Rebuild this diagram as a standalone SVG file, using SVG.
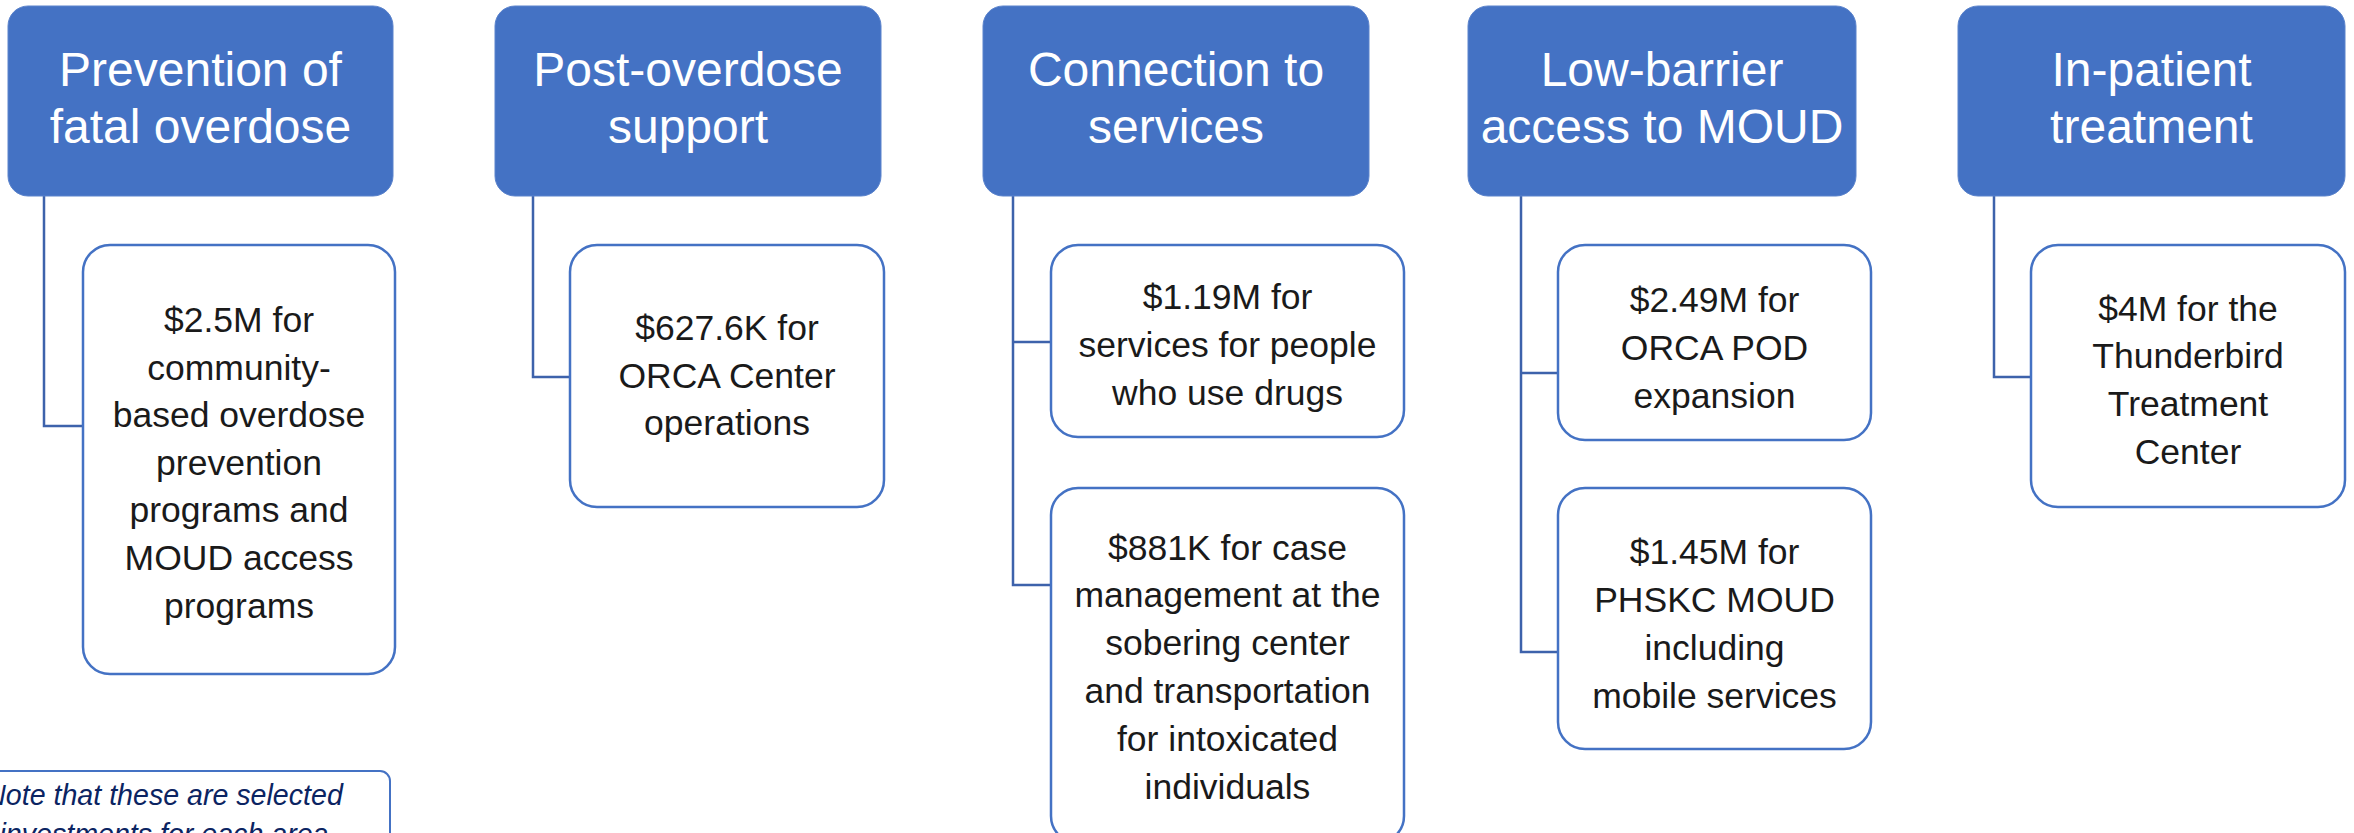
<svg xmlns="http://www.w3.org/2000/svg" width="2354" height="833" viewBox="0 0 2354 833">
<style>
.hdr{fill:#4472C4;stroke:#5B83CC;stroke-width:1}
.child{fill:#FFFFFF;stroke:#4472C4;stroke-width:2.5}
.ht{font-family:"Liberation Sans",Arial,sans-serif;font-size:48px;fill:#FFFFFF;text-anchor:middle}
.ct{font-family:"Liberation Sans",Arial,sans-serif;font-size:35.5px;fill:#1A1A1A;text-anchor:middle}
.conn{fill:none;stroke:#3D62AB;stroke-width:2.5}
.note{font-family:"Liberation Sans",Arial,sans-serif;font-size:28.6px;font-style:italic;fill:#0B2462;text-anchor:middle}
</style>
<rect width="2354" height="833" fill="#FFFFFF"/>
<g id="connectors">
<path class="conn" d="M44 196 V426 H83"/>
<path class="conn" d="M533 196 V377 H570"/>
<path class="conn" d="M1013 196 V585 H1051 M1013 342 H1051"/>
<path class="conn" d="M1521 196 V652 H1558 M1521 373 H1558"/>
<path class="conn" d="M1994 196 V377 H2031"/>
</g>
<g id="h1"><rect class="hdr" x="8" y="6" width="385" height="190" rx="20"/>
<text class="ht" x="200.5" y="86">Prevention of</text><text class="ht" x="200.5" y="143">fatal overdose</text></g>
<g id="h2"><rect class="hdr" x="495" y="6" width="386" height="190" rx="20"/>
<text class="ht" x="688" y="86">Post-overdose</text><text class="ht" x="688" y="143">support</text></g>
<g id="h3"><rect class="hdr" x="983" y="6" width="386" height="190" rx="20"/>
<text class="ht" x="1176" y="86">Connection to</text><text class="ht" x="1176" y="143">services</text></g>
<g id="h4"><rect class="hdr" x="1468" y="6" width="388" height="190" rx="20"/>
<text class="ht" x="1662" y="86">Low-barrier</text><text class="ht" x="1662" y="143">access to MOUD</text></g>
<g id="h5"><rect class="hdr" x="1958" y="6" width="387" height="190" rx="20"/>
<text class="ht" x="2151.5" y="86">In-patient</text><text class="ht" x="2151.5" y="143">treatment</text></g>
<g id="c1"><rect class="child" x="83" y="245" width="312" height="429" rx="27"/>
<text class="ct" x="239"><tspan x="239" y="332">$2.5M for</tspan><tspan x="239" y="380">community-</tspan><tspan x="239" y="427">based overdose</tspan><tspan x="239" y="475">prevention</tspan><tspan x="239" y="522">programs and</tspan><tspan x="239" y="570">MOUD access</tspan><tspan x="239" y="618">programs</tspan></text></g>
<g id="c2"><rect class="child" x="570" y="245" width="314" height="262" rx="27"/>
<text class="ct" x="727"><tspan x="727" y="340">$627.6K for</tspan><tspan x="727" y="388">ORCA Center</tspan><tspan x="727" y="435">operations</tspan></text></g>
<g id="c3a"><rect class="child" x="1051" y="245" width="353" height="192" rx="27"/>
<text class="ct" x="1227.5"><tspan x="1227.5" y="309">$1.19M for</tspan><tspan x="1227.5" y="357">services for people</tspan><tspan x="1227.5" y="405">who use drugs</tspan></text></g>
<g id="c3b"><rect class="child" x="1051" y="488" width="353" height="355" rx="27"/>
<text class="ct" x="1227.5"><tspan x="1227.5" y="560">$881K for case</tspan><tspan x="1227.5" y="607">management at the</tspan><tspan x="1227.5" y="655">sobering center</tspan><tspan x="1227.5" y="703">and transportation</tspan><tspan x="1227.5" y="751">for intoxicated</tspan><tspan x="1227.5" y="799">individuals</tspan></text></g>
<g id="c4a"><rect class="child" x="1558" y="245" width="313" height="195" rx="27"/>
<text class="ct" x="1714.5"><tspan x="1714.5" y="312">$2.49M for</tspan><tspan x="1714.5" y="360">ORCA POD</tspan><tspan x="1714.5" y="408">expansion</tspan></text></g>
<g id="c4b"><rect class="child" x="1558" y="488" width="313" height="261" rx="27"/>
<text class="ct" x="1714.5"><tspan x="1714.5" y="564">$1.45M for</tspan><tspan x="1714.5" y="612">PHSKC MOUD</tspan><tspan x="1714.5" y="660">including</tspan><tspan x="1714.5" y="708">mobile services</tspan></text></g>
<g id="c5"><rect class="child" x="2031" y="245" width="314" height="262" rx="27"/>
<text class="ct" x="2188"><tspan x="2188" y="321">$4M for the</tspan><tspan x="2188" y="368">Thunderbird</tspan><tspan x="2188" y="416">Treatment</tspan><tspan x="2188" y="464">Center</tspan></text></g>
<g id="note"><rect x="-30" y="771" width="420" height="120" rx="10" fill="#FFFFFF" stroke="#4472C4" stroke-width="2"/>
<text class="note"><tspan x="164" y="805">Note that these are selected</tspan><tspan x="164" y="844">investments for each area</tspan></text></g>
</svg>
